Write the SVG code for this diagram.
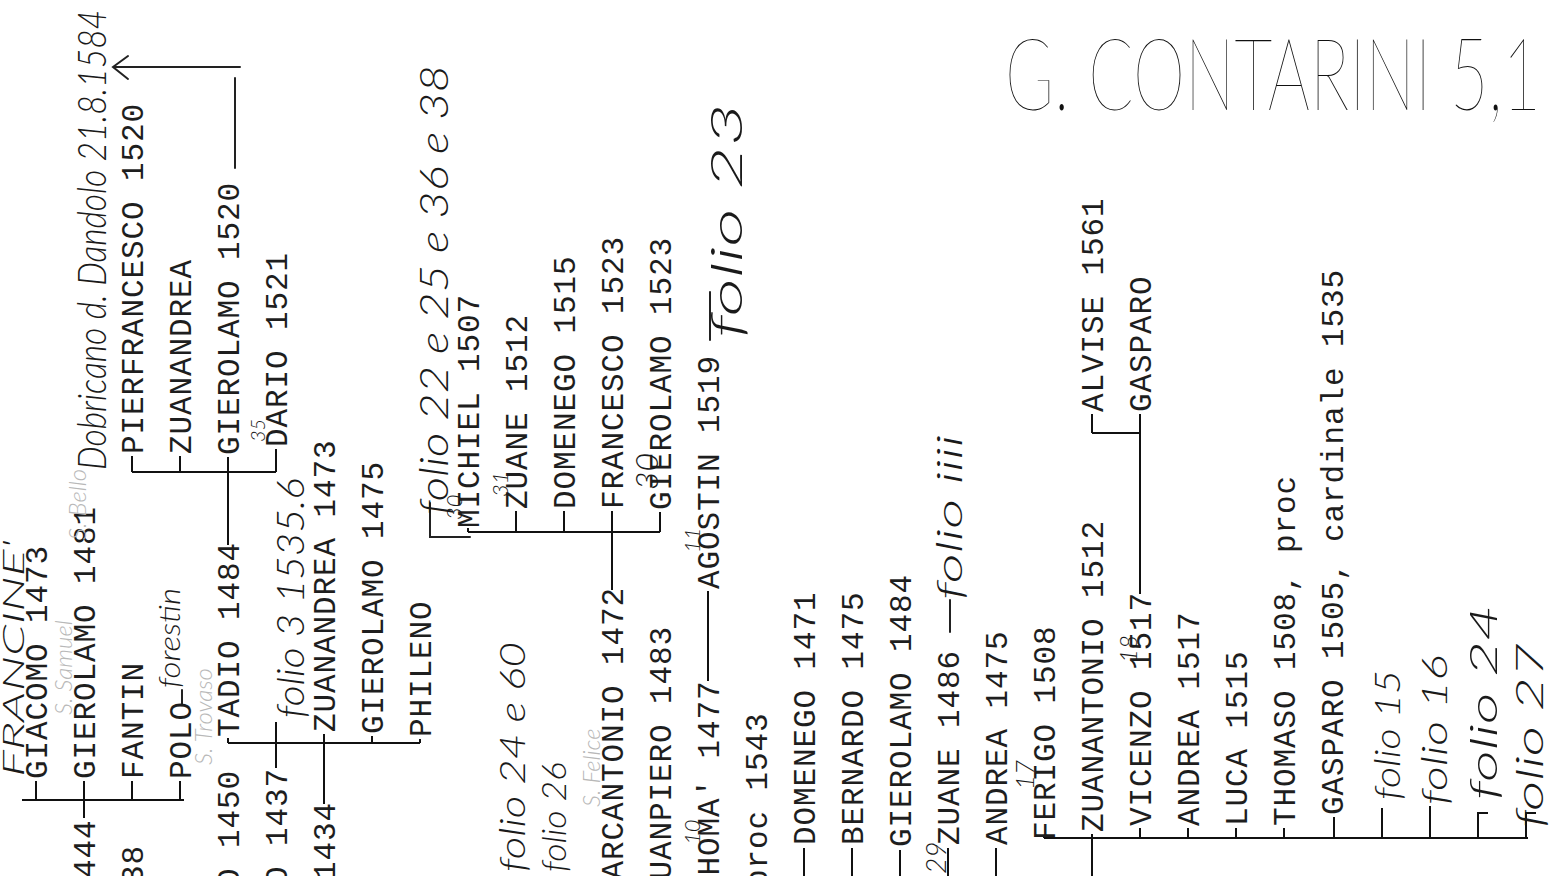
<svg xmlns="http://www.w3.org/2000/svg" width="1559" height="876" viewBox="0 0 1559 876">
<style>
.t{font-family:"Liberation Mono","DejaVu Sans Mono",monospace;font-size:31px;letter-spacing:0.9px;fill:#1e1e1e}
.h{font-family:Lato,"Open Sans","Liberation Sans",sans-serif;font-weight:300;font-style:italic;fill:#1a1a1a}
.f{font-family:Lato,"Open Sans","Liberation Sans",sans-serif;font-weight:300;font-style:italic;fill:#b8b8b8}
.c{stroke:#111;stroke-width:2;fill:none}
.p{stroke:#222;stroke-width:2;fill:none;stroke-linecap:round}
</style>
<rect width="1559" height="876" fill="#fff"/>

<g id="title"><text x="1005" y="110" font-family="Lato,Inter,'Open Sans',sans-serif" font-weight="100" font-size="100" textLength="536" lengthAdjust="spacingAndGlyphs" fill="#111">G. CONTARINI 5,1</text></g>

<g id="connectors">
<path class="c" d="M22,800 H184 M36,800 V781 M84,818 V781 M132,800 V781 M180,800 V781"/>
<path class="c" d="M228,545 V472 M132,472 H276 M132,472 V456 M180,472 V456 M228,472 V457 M276,472 V449"/>
<path class="c" d="M228,743 H420 M228,743 V738 M276,768 V722 M324,804 V734 M372,743 V736 M420,743 V739"/>
<path class="c" d="M468,532 H660 M468,532 V528 M516,532 V511 M564,532 V511 M612,590 V511 M660,532 V512"/>
<path class="c" d="M708,681 V591"/>
<path class="c" d="M804,876 V848 M852,876 V848 M900,876 V850 M948,876 V848 M996,876 V848"/>
<path class="c" d="M1044,838 H1528 M1044,838 V836 M1092,876 V834 M1140,838 V828 M1188,838 V828 M1236,838 V828 M1284,838 V828 M1334,838 V817 M1382,838 V808 M1430,838 V806 M1478,838 V813 H1488 M1526,838 V813 H1536"/>
<path class="c" d="M1140,594 V433 M1092,433 H1140 M1092,433 V414 M1140,433 V414"/>
<path class="p" d="M235,168 V78 M240,67 H114 M128,56 L113,67 L128,79"/>
<path class="p" d="M182,705 V690 M710,340 V292 M950,632 V600"/>
<path class="p" d="M470,537 H430 V503"/>
</g>

<g id="n-giacomo1473"><text class="t" transform="translate(46.5,779) rotate(-90)">GIACOMO 1473</text></g>
<g id="n-gierolamo1481"><text class="t" transform="translate(94.5,779) rotate(-90)">GIEROLAMO 1481</text></g>
<g id="n-fantin"><text class="t" transform="translate(142.5,779) rotate(-90)">FANTIN</text></g>
<g id="n-polo"><text class="t" transform="translate(190.5,779) rotate(-90)">POLO</text></g>
<g id="n-444"><text class="t" transform="translate(94.5,878) rotate(-90)">444</text></g>
<g id="n-38"><text class="t" transform="translate(142.5,884) rotate(-90)">38</text></g>
<g id="n-tadio"><text class="t" transform="translate(238.5,737) rotate(-90)">TADIO 1484</text></g>
<g id="n-o1450"><text class="t" transform="translate(238.5,887) rotate(-90)">O 1450</text></g>
<g id="n-o1437"><text class="t" transform="translate(286.5,885) rotate(-90)">O 1437</text></g>
<g id="n-1434"><text class="t" transform="translate(334.5,880) rotate(-90)">1434</text></g>
<g id="n-pierfrancesco"><text class="t" transform="translate(142.5,454) rotate(-90)">PIERFRANCESCO 1520</text></g>
<g id="n-zuanandrea"><text class="t" transform="translate(190.5,454) rotate(-90)">ZUANANDREA</text></g>
<g id="n-gierolamo1520"><text class="t" transform="translate(238.5,455) rotate(-90)">GIEROLAMO 1520</text></g>
<g id="n-dario"><text class="t" transform="translate(286.5,447) rotate(-90)">DARIO 1521</text></g>
<g id="n-zuanandrea1473"><text class="t" transform="translate(334.5,732) rotate(-90)">ZUANANDREA 1473</text></g>
<g id="n-gierolamo1475"><text class="t" transform="translate(382.5,734) rotate(-90)">GIEROLAMO 1475</text></g>
<g id="n-phileno"><text class="t" transform="translate(430.5,737) rotate(-90)">PHILENO</text></g>
<g id="n-michiel"><text class="t" transform="translate(478.5,528) rotate(-90)">MICHIEL 1507</text></g>
<g id="n-zuane1512"><text class="t" transform="translate(526.5,509) rotate(-90)">ZUANE 1512</text></g>
<g id="n-domenego1515"><text class="t" transform="translate(574.5,509) rotate(-90)">DOMENEGO 1515</text></g>
<g id="n-francesco1523"><text class="t" transform="translate(622.5,509) rotate(-90)">FRANCESCO 1523</text></g>
<g id="n-gierolamo1523"><text class="t" transform="translate(670.5,510) rotate(-90)">GIEROLAMO 1523</text></g>
<g id="n-marcantonio"><text class="t" transform="translate(622.5,899) rotate(-90)">MARCANTONIO 1472</text></g>
<g id="n-zuanpiero"><text class="t" transform="translate(670.5,899) rotate(-90)">ZUANPIERO 1483</text></g>
<g id="n-thoma"><text class="t" transform="translate(718.5,895) rotate(-90)">THOMA' 1477</text></g>
<g id="n-agostin"><text class="t" transform="translate(718.5,589) rotate(-90)">AGOSTIN 1519</text></g>
<g id="n-proc1543"><text class="t" transform="translate(766.5,888) rotate(-90)">proc 1543</text></g>
<g id="n-domenego1471"><text class="t" transform="translate(814.5,845) rotate(-90)">DOMENEGO 1471</text></g>
<g id="n-bernardo"><text class="t" transform="translate(862.5,845) rotate(-90)">BERNARDO 1475</text></g>
<g id="n-gierolamo1484"><text class="t" transform="translate(910.5,847) rotate(-90)">GIEROLAMO 1484</text></g>
<g id="n-zuane1486"><text class="t" transform="translate(958.5,845) rotate(-90)">ZUANE 1486</text></g>
<g id="n-andrea1475"><text class="t" transform="translate(1006.5,845) rotate(-90)">ANDREA 1475</text></g>
<g id="n-ferigo"><text class="t" transform="translate(1054.5,840) rotate(-90)">FERIGO 1508</text></g>
<g id="n-zuanantonio"><text class="t" transform="translate(1102.5,832) rotate(-90)">ZUANANTONIO 1512</text></g>
<g id="n-vicenzo"><text class="t" transform="translate(1150.5,826) rotate(-90)">VICENZO 1517</text></g>
<g id="n-andrea1517"><text class="t" transform="translate(1198.5,826) rotate(-90)">ANDREA 1517</text></g>
<g id="n-luca"><text class="t" transform="translate(1246.5,826) rotate(-90)">LUCA 1515</text></g>
<g id="n-thomaso"><text class="t" transform="translate(1294.5,826) rotate(-90)">THOMASO 1508, proc</text></g>
<g id="n-gasparo1505"><text class="t" transform="translate(1342.5,815) rotate(-90)">GASPARO 1505, cardinale 1535</text></g>
<g id="n-alvise"><text class="t" transform="translate(1102.5,412) rotate(-90)">ALVISE 1561</text></g>
<g id="n-gasparo"><text class="t" transform="translate(1150.5,412) rotate(-90)">GASPARO</text></g>

<g id="notes">
<text class="h" font-size="40" textLength="460" lengthAdjust="spacingAndGlyphs" transform="translate(106,470) rotate(-90)">Dobricano d. Dandolo 21.8.1584</text>
<text class="h" font-size="30" textLength="237" lengthAdjust="spacingAndGlyphs" transform="translate(24,777) rotate(-90)">FRANCINE'</text>
<text class="h" font-size="40" textLength="450" lengthAdjust="spacingAndGlyphs" transform="translate(448,515) rotate(-90)">folio 22 e 25 e 36 e 38</text>
<text class="h" font-size="44" textLength="235" lengthAdjust="spacingAndGlyphs" transform="translate(742,338) rotate(-90)">folio 23</text>
<text class="h" font-size="38" textLength="240" lengthAdjust="spacingAndGlyphs" transform="translate(304,718) rotate(-90)">folio 3 1535.6</text>
<text class="h" font-size="36" textLength="230" lengthAdjust="spacingAndGlyphs" transform="translate(525,872) rotate(-90)">folio 24 e 60</text>
<text class="h" font-size="34" textLength="110" lengthAdjust="spacingAndGlyphs" transform="translate(566,872) rotate(-90)">folio 26</text>
<text class="h" font-size="30" textLength="100" lengthAdjust="spacingAndGlyphs" transform="translate(180,688) rotate(-90)">forestin</text>
<text class="h" font-size="36" textLength="165" lengthAdjust="spacingAndGlyphs" transform="translate(962,600) rotate(-90)">folio iiii</text>
<text class="h" font-size="20" transform="translate(265,442) rotate(-90)">35</text>
<text class="h" font-size="22" transform="translate(462,520) rotate(-90)">30</text>
<text class="h" font-size="22" transform="translate(508,497) rotate(-90)">31</text>
<text class="h" font-size="32" transform="translate(658,490) rotate(-90)">30</text>
<text class="h" font-size="22" transform="translate(700,553) rotate(-90)">11</text>
<text class="h" font-size="22" transform="translate(700,845) rotate(-90)">10</text>
<text class="h" font-size="28" transform="translate(946,874) rotate(-90)">29</text>
<text class="h" font-size="26" transform="translate(1034,790) rotate(-90)">17</text>
<text class="h" font-size="24" transform="translate(1137,663) rotate(-90)">18</text>
<text class="h" font-size="36" textLength="130" lengthAdjust="spacingAndGlyphs" transform="translate(1400,800) rotate(-90)">folio 15</text>
<text class="h" font-size="36" textLength="150" lengthAdjust="spacingAndGlyphs" transform="translate(1447,805) rotate(-90)">folio 16</text>
<text class="h" font-size="38" textLength="195" lengthAdjust="spacingAndGlyphs" transform="translate(1497,800) rotate(-90)">folio 24</text>
<text class="h" font-size="38" textLength="185" lengthAdjust="spacingAndGlyphs" transform="translate(1543,828) rotate(-90)">folio 27</text>
<text class="f" font-size="24" transform="translate(86,540) rotate(-90)">S. Bello</text>
<text class="f" font-size="24" transform="translate(72,715) rotate(-90)">S. Samuel</text>
<text class="f" font-size="24" transform="translate(212,765) rotate(-90)">S. Trovaso</text>
<text class="f" font-size="24" transform="translate(600,807) rotate(-90)">S. Felice</text>
</g>
</svg>
